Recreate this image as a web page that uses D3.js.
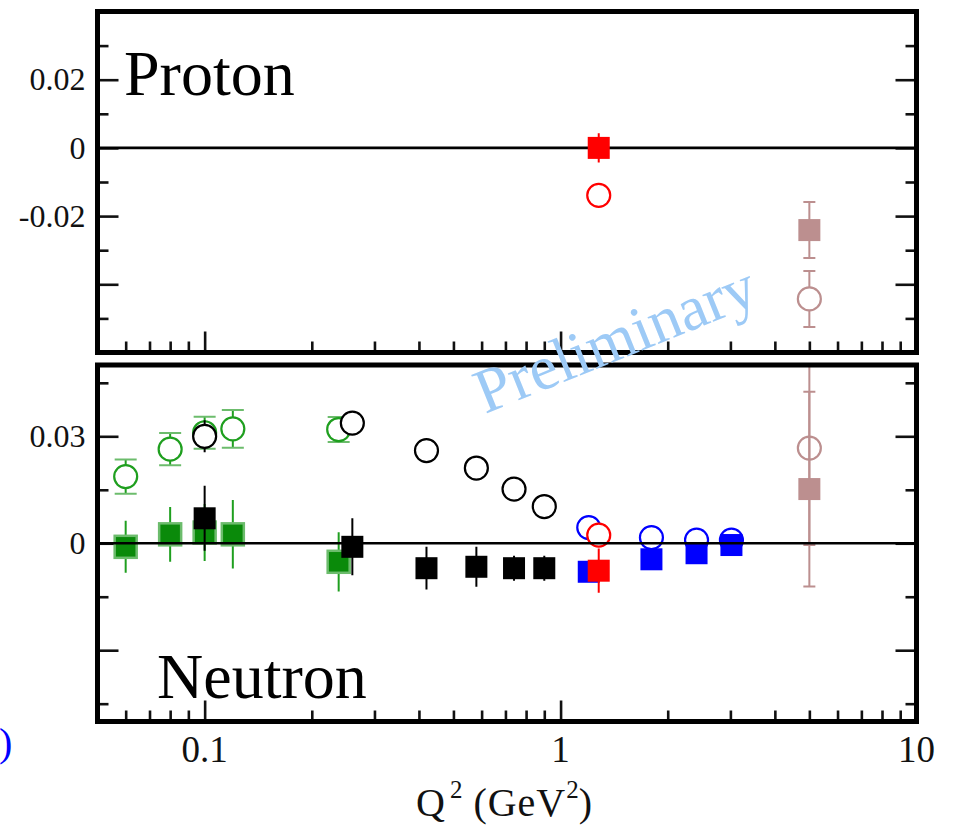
<!DOCTYPE html>
<html>
<head>
<meta charset="utf-8">
<script src="https://cdn.jsdelivr.net/npm/d3@7"></script>
<style>
  html, body { margin: 0; padding: 0; background: #fff; }
  svg { display: block; }
  text { font-family: "Liberation Serif", "Times New Roman", serif; }
</style>
</head>
<body>
<svg id="chart" width="956" height="826"></svg>
<script>
// ---- x axis (shared, log Q^2) ----
const xMajorTicks = [0.1, 1, 10];
const xTickLabels = ["0.1", "1", "10"];
const xMinorTicks = [0.06, 0.07, 0.08, 0.09, 0.2, 0.3, 0.4, 0.5, 0.6, 0.7, 0.8, 0.9, 2, 3, 4, 5, 6, 7, 8, 9];

// ---- proton panel axis ----
const protonMajorTicks = [-0.04, -0.02, 0, 0.02];
const protonTickLabels = ["", "-0.02", "0", "0.02"];
const protonMinorTicks = [-0.05, -0.03, -0.01, 0.01, 0.03];

// ---- neutron panel axis ----
const neutronMajorTicks = [-0.03, 0, 0.03];
const neutronTickLabels = ["", "0", "0.03"];
const neutronMinorTicks = [-0.045, -0.015, 0.015, 0.045];

// ---- proton data ----
const protonRedSquareQ2 = [1.28];
const protonRedSquareVal = [0.0];
const protonRedSquareErr = [0.0043];
const protonRedCircleQ2 = [1.28];
const protonRedCircleVal = [-0.0139];
const protonRedCircleErr = [0];
const protonBrownSquareQ2 = [5.0];
const protonBrownSquareVal = [-0.0241];
const protonBrownSquareErr = [0.0082];
const protonBrownCircleQ2 = [5.0];
const protonBrownCircleVal = [-0.0443];
const protonBrownCircleErr = [0.0082];

// ---- neutron data ----
const greenQ2 = [0.06, 0.08, 0.10, 0.12, 0.238];
const greenCircleVal = [0.0187, 0.0264, 0.0310, 0.0321, 0.0319];
const greenCircleErr = [0.0048, 0.0045, 0.0045, 0.0053, 0.0035];
const greenSquareVal = [-0.0010, 0.0025, 0.0030, 0.0025, -0.0052];
const greenSquareErr = [0.0073, 0.0077, 0.0080, 0.0096, 0.0083];

const blackQ2 = [0.10, 0.26, 0.42, 0.58, 0.74, 0.90];
const blackCircleVal = [0.0300, 0.0337, 0.0260, 0.0211, 0.0152, 0.0103];
const blackCircleErr = [0.0045, 0, 0, 0, 0, 0];
const blackSquareVal = [0.0070, -0.0010, -0.0070, -0.0066, -0.0070, -0.0070];
const blackSquareErr = [0.0091, 0.0080, 0.0060, 0.0056, 0.0035, 0.0035];

const blueQ2 = [1.20, 1.80, 2.41, 3.02];
const blueCircleVal = [0.0044, 0.0016, 0.0009, 0.0009];
const blueSquareVal = [-0.0080, -0.0045, -0.0028, -0.0005];

const neutronRedQ2 = [1.28];
const neutronRedCircleVal = [0.0023];
const neutronRedSquareVal = [-0.0077];
const neutronRedSquareErr = [0.0062];

const neutronBrownQ2 = [5.0];
const neutronBrownCircleVal = [0.0267];
const neutronBrownCircleErr = [0.0272];
const neutronBrownSquareVal = [0.0152];
const neutronBrownSquareErr = [0.0273];

// ---- layout ----
const xLeft = 97.5, xRight = 916.5;
const proton = { top: 11.5, bottom: 352.5, domain: [-0.06, 0.04] };
const neutron = { top: 365, bottom: 721.5, domain: [-0.05, 0.05] };

const svg = d3.select("#chart");
const x = d3.scaleLog().domain([0.05, 10]).range([xLeft, xRight]);

const C = {
  green: "#0a8a0a",
  greenLight: "#1f9f1f",
  greenHalo: "#6cbc6c",
  black: "#000000",
  blue: "#0000ff",
  red: "#ff0000",
  brown: "#bc8f8f"
};

function zip(q2, val, err) {
  return q2.map((q, i) => ({ q: q, v: val[i], e: err ? err[i] : 0 }));
}

function drawPanel(p, circles, squares, majorT, labels, minorT, lineOnTop, clipId) {
  const y = d3.scaleLinear().domain(p.domain).range([p.bottom, p.top]);
  const g = svg.append("g");

  g.append("clipPath").attr("id", clipId)
    .append("rect").attr("x", xLeft).attr("y", p.top)
    .attr("width", xRight - xLeft).attr("height", p.bottom - p.top);

  // left axis: major ticks with labels, then minor ticks
  const leftMajor = g.append("g").attr("transform", `translate(${xLeft},0)`)
    .call(d3.axisLeft(y).tickValues(majorT).tickSizeInner(-21).tickSizeOuter(0).tickPadding(12)
      .tickFormat((d, i) => labels[i]));
  g.append("g").attr("transform", `translate(${xLeft},0)`)
    .call(d3.axisLeft(y).tickValues(minorT).tickSizeInner(-11).tickSizeOuter(0).tickFormat(""));
  // right axis: mirrored ticks
  g.append("g").attr("transform", `translate(${xRight},0)`)
    .call(d3.axisRight(y).tickValues(majorT).tickSizeInner(-21).tickSizeOuter(0).tickFormat(""));
  g.append("g").attr("transform", `translate(${xRight},0)`)
    .call(d3.axisRight(y).tickValues(minorT).tickSizeInner(-11).tickSizeOuter(0).tickFormat(""));
  // bottom ticks
  g.append("g").attr("transform", `translate(0,${p.bottom})`)
    .call(d3.axisBottom(x).tickValues(xMajorTicks).tickSizeInner(-21).tickSizeOuter(0).tickFormat(""));
  g.append("g").attr("transform", `translate(0,${p.bottom})`)
    .call(d3.axisBottom(x).tickValues(xMinorTicks).tickSizeInner(-11).tickSizeOuter(0).tickFormat(""));

  g.selectAll(".domain").remove();
  g.selectAll(".tick line").attr("stroke", "#111").attr("stroke-width", 2.6);
  leftMajor.selectAll(".tick text")
    .attr("font-size", 32).attr("fill", "#111");

  const zero = () => g.append("line")
    .attr("x1", xLeft).attr("x2", xRight)
    .attr("y1", y(0)).attr("y2", y(0))
    .attr("stroke", "#000").attr("stroke-width", 2.6);

  if (!lineOnTop) zero();

  const data = g.append("g").attr("clip-path", `url(#${clipId})`);

  function errBars(sel, s) {
    const pts = s.pts.filter(d => d.e > 0);
    sel.selectAll(null).data(pts).join("line")
      .attr("x1", d => x(d.q)).attr("x2", d => x(d.q))
      .attr("y1", d => y(d.v - d.e)).attr("y2", d => y(d.v + d.e))
      .attr("stroke", s.errColor || s.color).attr("stroke-width", 2);
    if (s.cap) {
      [-1, 1].forEach(sg => {
        sel.selectAll(null).data(pts).join("line")
          .attr("x1", d => x(d.q) - s.cap).attr("x2", d => x(d.q) + s.cap)
          .attr("y1", d => y(d.v + sg * d.e)).attr("y2", d => y(d.v + sg * d.e))
          .attr("stroke", s.capColor || s.color).attr("stroke-width", 2);
      });
    }
  }

  circles.forEach(s => {
    const sg = data.append("g");
    errBars(sg, s);
    sg.selectAll(null).data(s.pts).join("circle")
      .attr("cx", d => x(d.q)).attr("cy", d => y(d.v)).attr("r", 11.5)
      .attr("fill", "#fff").attr("fill-opacity", s.hollow ? 0 : 1)
      .attr("stroke", s.color).attr("stroke-width", 2.2);
  });

  squares.forEach(s => {
    const sg = data.append("g");
    errBars(sg, s);
    sg.selectAll(null).data(s.pts).join("rect")
      .attr("x", d => x(d.q) - 11).attr("y", d => y(d.v) - 11)
      .attr("width", 22).attr("height", 22)
      .attr("fill", s.color)
      .attr("stroke", s.halo || "none").attr("stroke-width", s.halo ? 2.5 : 0);
  });

  if (lineOnTop) zero();

  // frame
  g.append("rect")
    .attr("x", xLeft).attr("y", p.top)
    .attr("width", xRight - xLeft).attr("height", p.bottom - p.top)
    .attr("fill", "none").attr("stroke", "#000").attr("stroke-width", 5);

  return y;
}

// Proton panel
drawPanel(proton,
  [
    { pts: zip(protonRedCircleQ2, protonRedCircleVal, protonRedCircleErr), color: C.red },
    { pts: zip(protonBrownCircleQ2, protonBrownCircleVal, protonBrownCircleErr), color: C.brown, cap: 6 }
  ],
  [
    { pts: zip(protonRedSquareQ2, protonRedSquareVal, protonRedSquareErr), color: C.red },
    { pts: zip(protonBrownSquareQ2, protonBrownSquareVal, protonBrownSquareErr), color: C.brown, cap: 6 }
  ],
  protonMajorTicks, protonTickLabels, protonMinorTicks, false, "clip-proton");

// Neutron panel
drawPanel(neutron,
  [
    { pts: zip(greenQ2, greenCircleVal, greenCircleErr), color: C.greenLight, cap: 11, capColor: C.greenHalo },
    { pts: zip(blackQ2, blackCircleVal, blackCircleErr), color: C.black },
    { pts: zip(blueQ2, blueCircleVal), color: C.blue },
    { pts: zip(neutronRedQ2, neutronRedCircleVal), color: C.red },
    { pts: zip(neutronBrownQ2, neutronBrownCircleVal, neutronBrownCircleErr), color: C.brown, cap: 6, hollow: true }
  ],
  [
    { pts: zip(greenQ2, greenSquareVal, greenSquareErr), color: C.green, halo: C.greenHalo, errColor: C.greenLight },
    { pts: zip(blackQ2, blackSquareVal, blackSquareErr), color: C.black },
    { pts: zip(blueQ2, blueSquareVal), color: C.blue },
    { pts: zip(neutronRedQ2, neutronRedSquareVal, neutronRedSquareErr), color: C.red },
    { pts: zip(neutronBrownQ2, neutronBrownSquareVal, neutronBrownSquareErr), color: C.brown, cap: 6 }
  ],
  neutronMajorTicks, neutronTickLabels, neutronMinorTicks, true, "clip-neutron");

// x tick labels under the neutron panel
svg.append("g").selectAll("text").data(xMajorTicks).join("text")
  .attr("x", d => x(d)).attr("y", 762)
  .attr("text-anchor", "middle")
  .attr("font-size", 37).attr("fill", "#111")
  .text((d, i) => xTickLabels[i]);

// x axis title: Q^2 (GeV^2)
const title = svg.append("text").attr("x", 416).attr("y", 816)
  .attr("font-size", 40).attr("letter-spacing", 1).attr("fill", "#111");
title.append("tspan").text("Q");
title.append("tspan").attr("font-size", 25).attr("dy", -18).attr("dx", 4).text("2");
title.append("tspan").attr("dy", 18).attr("dx", 10).text("(GeV");
title.append("tspan").attr("font-size", 25).attr("dy", -18).attr("dx", 0).text("2");
title.append("tspan").attr("dy", 18).attr("dx", -1).text(")");

// panel labels
svg.append("text").attr("x", 124).attr("y", 95).attr("font-size", 64).text("Proton");
svg.append("text").attr("x", 157).attr("y", 698).attr("font-size", 64).text("Neutron");

// stray bracket at the left margin
svg.append("text").attr("x", -1).attr("y", 756)
  .attr("font-size", 40).attr("fill", "#0000ff").text(")");

// watermark
svg.append("text")
  .attr("transform", "translate(485,414) rotate(-22)")
  .attr("font-size", 63).attr("fill", "#9dcaf6")
  .text("Preliminary");
</script>
</body>
</html>
